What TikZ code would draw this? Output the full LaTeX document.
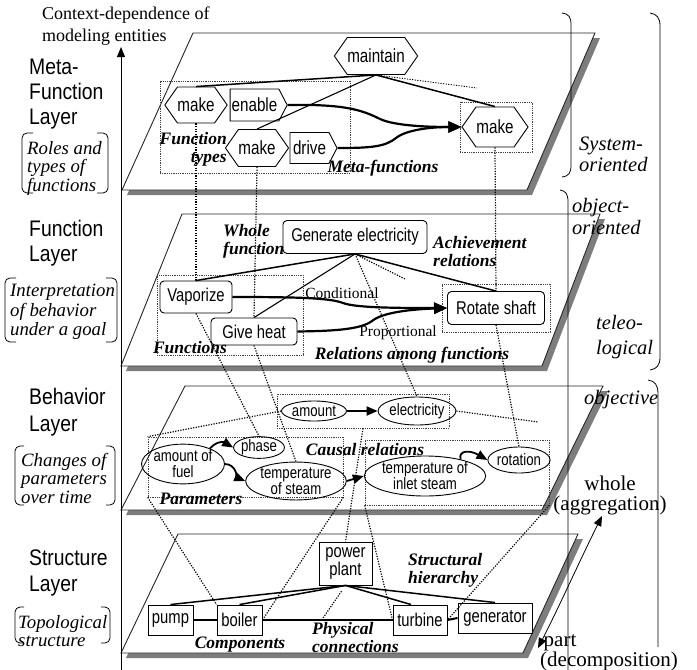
\documentclass[tikz,border=0pt]{standalone}
\usepackage{fontspec}
\setmainfont{Liberation Serif}
\newfontfamily\nsans[FakeStretch=0.8]{Liberation Sans}
\newfontfamily\lsans[FakeStretch=0.86]{Liberation Sans}
\usetikzlibrary{shapes.symbols,shapes.geometric,arrows.meta}
\newcommand{\fsz}[2]{\fontsize{#1}{#2}\selectfont}
\definecolor{shadowgray}{RGB}{125,125,125}
\tikzset{
  plane/.style={fill=white, draw=black!85, line width=0.9pt},
  planeshadow/.style={fill=shadowgray},
  hexa/.style={shape=signal, signal to=east and west, signal pointer angle=110, draw, line width=0.9pt, inner sep=0pt, font=\nsans\fsz{19}{20}},
  sigr/.style={shape=signal, signal to=east, signal pointer angle=125, draw, line width=0.9pt, inner sep=0pt, font=\nsans\fsz{19}{20}},
  fnode/.style={draw, rounded corners=4pt, line width=0.9pt, inner sep=0pt, font=\nsans\fsz{18.5}{20}},
  ell/.style={ellipse, draw, line width=0.9pt, inner sep=0pt, font=\nsans\fsz{16.5}{16}, align=center},
  sbox/.style={draw, rectangle, line width=0.9pt, inner sep=0pt, font=\nsans\fsz{18.5}{18}, align=center},
  dbox/.style={draw=black!75, line width=0.7pt, dash pattern=on 0.8pt off 1pt, inner sep=0pt},
  bilabel/.style={font=\bfseries\itshape\fsz{17.5}{18}, inner sep=0pt},
  rel/.style={font=\fsz{15.5}{16}, inner sep=0pt},
  dotc/.style={line width=1.2pt, dash pattern=on 1.2pt off 1.4pt},
  solidc/.style={line width=1.5pt},
  thinc/.style={line width=1.1pt},
  curvarr/.style={line width=2.2pt, -{Triangle[length=13pt,width=11pt]}},
  smallarr/.style={line width=1.8pt, -{Triangle[length=11pt,width=9pt]}},
  layerlabel/.style={font=\lsans\fsz{22.5}{25}, align=left, inner sep=0pt},
  brlabel/.style={font=\itshape\fsz{18.8}{19}, align=left, inner sep=0pt},
  sidelabel/.style={font=\itshape\fsz{20.5}{22}, align=left, inner sep=0pt},
  bracketline/.style={line width=0.8pt, rounded corners=5pt},
}
\begin{document}
\begin{tikzpicture}[x=1pt,y=-1pt]
\useasboundingbox (0,0) rectangle (697,670);

% ---------- planes ----------
\fill[planeshadow, shift={(5,5)}] (122,190) -- (527,190) -- (595,33) -- (193,33) -- cycle;
\filldraw[plane] (122,190) -- (527,190) -- (595,33) -- (193,33) -- cycle;
\fill[planeshadow, shift={(5,5)}] (121,366) -- (542,366) -- (600,214) -- (182,214) -- cycle;
\filldraw[plane] (121,366) -- (542,366) -- (600,214) -- (182,214) -- cycle;
\fill[planeshadow, shift={(5,5)}] (121,510) -- (542,510) -- (603,386) -- (185,386) -- cycle;
\filldraw[plane] (121,510) -- (542,510) -- (603,386) -- (185,386) -- cycle;
\fill[planeshadow, shift={(5,5)}] (121,653) -- (523,653) -- (578,534) -- (178,534) -- cycle;
\filldraw[plane] (121,653) -- (523,653) -- (578,534) -- (178,534) -- cycle;

% ---------- axis ----------
\coordinate (axbot) at (121,670);
\coordinate (axtop) at (121,47);
\draw[line width=1pt, -{Triangle[length=10pt,width=8pt]}] (axbot) -- (axtop);
\node[font=\fsz{18}{22}, align=left, anchor=west, inner sep=0pt] (ctx) at (42,26) {Context-dependence of\\modeling entities};

% ---------- left labels ----------
\node[layerlabel, anchor=west] (lmeta) at (29,94) {Meta-\\Function\\Layer};
\node[layerlabel, anchor=west] (lfunc) at (29,243) {Function\\Layer};
\node[layerlabel, anchor=west, font=\lsans\fsz{22.5}{27}] (lbeh) at (29,412) {Behavior\\Layer};
\node[layerlabel, anchor=west, font=\lsans\fsz{22.5}{26}] (lstr) at (29,573) {Structure\\Layer};

\node[brlabel, anchor=west, font=\itshape\fsz{18.8}{18.5}] (roles) at (27,168) {Roles and\\types of\\functions};
\draw[bracketline] (33,133) -- (22,133) -- (22,193) -- (33,193);
\draw[bracketline] (97,133) -- (108,133) -- (108,193) -- (97,193);

\node[brlabel, anchor=west, font=\itshape\fsz{18.8}{19.5}] (interp) at (10,312) {Interpretation\\of behavior\\under a goal};
\draw[bracketline] (16,278) -- (5,278) -- (5,342) -- (16,342);
\draw[bracketline] (106,278) -- (117,278) -- (117,342) -- (106,342);

\node[brlabel, anchor=west, font=\itshape\fsz{18.8}{18.5}] (changes) at (21,478) {Changes of\\parameters\\over time};
\draw[bracketline] (24,446) -- (15,446) -- (15,505) -- (24,505);
\draw[bracketline] (106,446) -- (115,446) -- (115,505) -- (106,505);

\node[brlabel, anchor=west, font=\itshape\fsz{18.8}{18}] (topo) at (18,631) {Topological\\structure};
\draw[bracketline] (24,607) -- (15,607) -- (15,643) -- (24,643);
\draw[bracketline] (101,607) -- (110,607) -- (110,643) -- (101,643);

% ---------- right brackets and labels ----------
\draw[line width=0.8pt] (562,13) .. controls (569,14) and (571,17) .. (571,25) -- (571,165) .. controls (571,173) and (569,176) .. (562,177);
\draw[line width=0.8pt] (650,13) .. controls (657,14) and (660,18) .. (660,26) -- (660,357) .. controls (660,365) and (657,369) .. (650,370);
\draw[line width=0.8pt] (560,190) .. controls (566,191) and (568,194) .. (568,202) -- (568,670);
\draw[line width=0.8pt] (648,380) .. controls (655,381) and (658,385) .. (658,394) -- (658,647);

\node[sidelabel, anchor=west, font=\itshape\fsz{20.5}{21}] (sysor) at (579,154) {System-\\oriented};
\node[sidelabel, anchor=west] (objor) at (572,216) {object-\\oriented};
\node[sidelabel, anchor=west, font=\itshape\fsz{20.5}{25}] (teleo) at (596,337) {teleo-\\logical};
\node[sidelabel, anchor=west] (objective) at (584,400) {objective};
\node[font=\fsz{21}{20}, align=center, inner sep=0pt] (whole) at (610,495) {whole\\(aggregation)};
\node[font=\fsz{21}{20}, align=left, anchor=west, inner sep=0pt] (part) at (540,653) {\,part\\(decomposition)};
\coordinate (dA) at (538,648);
\coordinate (dB) at (602,516);
\draw[line width=0.8pt, {Triangle[length=10pt,width=8pt]}-{Triangle[length=10pt,width=8pt]}] (dA) .. controls (560,605) and (580,560) .. (dB);

% ---------- meta-function layer ----------
\node[dbox, minimum width=190pt, minimum height=92pt] (mfbox1) at (255,127) {};
\node[dbox, minimum width=72pt, minimum height=50pt] (mfbox2) at (496,127) {};
\node[hexa, minimum width=62pt, minimum height=37pt] (maintain) at (376,56) {maintain};
\node[hexa, minimum width=58pt, minimum height=36pt] (make1) at (196,105) {make};
\node[sigr, minimum width=57pt, minimum height=32pt] (enable) at (254.5,105) {enable};
\node[hexa, minimum width=56pt, minimum height=37pt] (make2) at (257,148) {make};
\node[sigr, minimum width=47pt, minimum height=31pt] (drive) at (309.5,148) {drive};
\node[hexa, minimum width=66pt, minimum height=40pt] (make3) at (495,127) {make};
\node[bilabel, align=right, anchor=east, font=\bfseries\itshape\fsz{17.5}{18}] (ftypes) at (227,149) {Function\\types};
\node[bilabel] (metaf) at (383,168) {Meta-functions};

\draw[solidc] (maintain.south) -- (make1.north);
\draw[thinc] (maintain.south) -- (make2.north);
\draw[solidc] (maintain.south) -- (make3.north);
\coordinate (mdot) at (477,88);
\draw[dotc, line width=0.9pt] (maintain.south) -- (mdot);
\draw[curvarr] (enable.east) .. controls (345,104) and (362,110) .. (380,119) .. controls (395,126) and (430,127) .. (make3.west);
\draw[curvarr] (drive.east) .. controls (370,148) and (385,147) .. (396,138) .. controls (406,130) and (430,127) .. (make3.west);

% ---------- function layer ----------
\node[dbox, minimum width=146pt, minimum height=80pt] (fbox1) at (230,315) {};
\node[dbox, minimum width=108pt, minimum height=48pt] (fbox2) at (496,308) {};
\node[fnode, minimum width=144pt, minimum height=33pt] (ge) at (355,237) {Generate electricity};
\node[fnode, minimum width=72pt, minimum height=32pt] (vap) at (196,297) {Vaporize};
\node[fnode, minimum width=86pt, minimum height=27pt] (heat) at (254,331.5) {Give heat};
\node[fnode, minimum width=97pt, minimum height=33pt] (rot) at (496,308) {Rotate shaft};
\node[bilabel, align=left, anchor=west] (wholef) at (223,241) {Whole\\function};
\node[bilabel, align=left, anchor=west] (achrel) at (433,252) {Achievement\\relations};
\node[rel] (cond) at (342,293) {Conditional};
\node[rel] (prop) at (398,333) {Proportional};
\node[bilabel] (funcs) at (190,348) {Functions};
\node[bilabel] (relfun) at (412,355) {Relations among functions};

\draw[solidc] (ge.south) -- (vap.north);
\draw[thinc] (ge.south) -- (heat.north);
\draw[solidc] (ge.south) -- (rot.north);
\coordinate (gdot) at (405,279);
\draw[dotc] (ge.south) -- (gdot);
\draw[curvarr] (vap.east) .. controls (300,297) and (330,298) .. (343,303) .. controls (356,308) and (400,308) .. (rot.west);
\draw[curvarr] (heat.east) .. controls (330,331) and (360,330) .. (372,321) .. controls (384,311) and (420,309) .. (rot.west);

\draw[dotc] (make1.south) -- (vap.north);
\draw[dotc] (make2.south) -- (heat.north);
\draw[dotc] (make3.south) -- (rot.north);

% ---------- behavior layer ----------
\node[dbox, minimum width=172pt, minimum height=34pt] (bbox0) at (363,411) {};
\node[dbox, minimum width=195pt, minimum height=60pt] (bbox1) at (245.5,467) {};
\node[dbox, minimum width=184pt, minimum height=65pt] (bbox2) at (457,472.5) {};
\node[ell, minimum width=65pt, minimum height=20pt] (amount) at (314,411) {amount};
\node[ell, minimum width=57pt, minimum height=28pt] (elec) at (417,411) {electricity};
\node[ell, minimum width=70pt, minimum height=38pt] (fuel) at (183,464) {amount of\\fuel};
\node[ell, minimum width=48pt, minimum height=20pt] (phase) at (259,447.5) {phase};
\node[ell, minimum width=87pt, minimum height=28pt] (steam) at (296,481) {temperature\\of steam};
\node[ell, minimum width=104pt, minimum height=40pt] (inlet) at (425,476) {temperature of\\inlet steam};
\node[ell, minimum width=58pt, minimum height=26pt] (rotation) at (519,460) {rotation};
\node[bilabel] (causal) at (365,450) {Causal relations};
\node[bilabel] (params) at (201,499) {Parameters};

\draw[smallarr] (amount.east) -- (elec.west);
\draw[smallarr] (fuel.30) .. controls (214,443) and (222,441) .. (phase.west);
\draw[smallarr] (fuel.east) .. controls (236,464) and (238,478) .. (steam.west);
\draw[smallarr] (steam.east) -- (inlet.west);
\draw[smallarr] (inlet.25) .. controls (458,450) and (470,450) .. (rotation.west);

\draw[dotc] (ge.south) -- (elec.north);
\draw[dotc] (vap.south) -- (phase.north);
\draw[dotc] (heat.south) -- (steam.north);
\draw[dotc] (rot.south) -- (rotation.north);
\draw[dotc] (amount.west) -- (bbox1.north west);
\coordinate (edot) at (538,422);
\draw[dotc] (elec.east) -- (edot);

% ---------- structure layer ----------
\node[sbox, minimum width=53pt, minimum height=43pt] (pp) at (345.5,563.5) {power\\plant};
\node[sbox, minimum width=45pt, minimum height=30pt] (pump) at (170.5,620) {pump};
\node[sbox, minimum width=45pt, minimum height=30pt] (boiler) at (239.5,620) {boiler};
\node[sbox, minimum width=54pt, minimum height=30pt] (turbine) at (420,620) {turbine};
\node[sbox, minimum width=74pt, minimum height=30pt] (gen) at (495,618) {generator};
\node[bilabel] (comps) at (240,645) {Components};
\node[bilabel, align=left, anchor=west] (physc) at (312,638) {Physical\\connections};
\node[bilabel, align=left, anchor=west] (strh) at (408,570) {Structural\\hierarchy};

\draw[solidc] (pp.south) -- (pump.north);
\draw[solidc] (pp.south) -- (boiler.north);
\draw[solidc] (pp.south) -- (turbine.120);
\draw[solidc] (pp.south) -- (gen.north);
\draw[line width=2pt] (pump.east) -- (boiler.west);
\draw[line width=2pt] (boiler.east) -- (turbine.west);
\draw[line width=2pt] (turbine.east) -- (gen.west);

\draw[dotc] (bbox0.south) -- (pp.north);
\draw[dotc] (bbox1.south west) -- (boiler.north west);
\draw[dotc] (bbox1.south east) -- (boiler.east);
\draw[dotc] (bbox2.south west) -- (turbine.west);
\draw[dotc] (bbox2.south east) -- (turbine.east);
\coordinate (pcdot) at (323,618);
\draw[dotc, shorten <=7pt] (pp.south) -- (pcdot);
\end{tikzpicture}
\end{document}
